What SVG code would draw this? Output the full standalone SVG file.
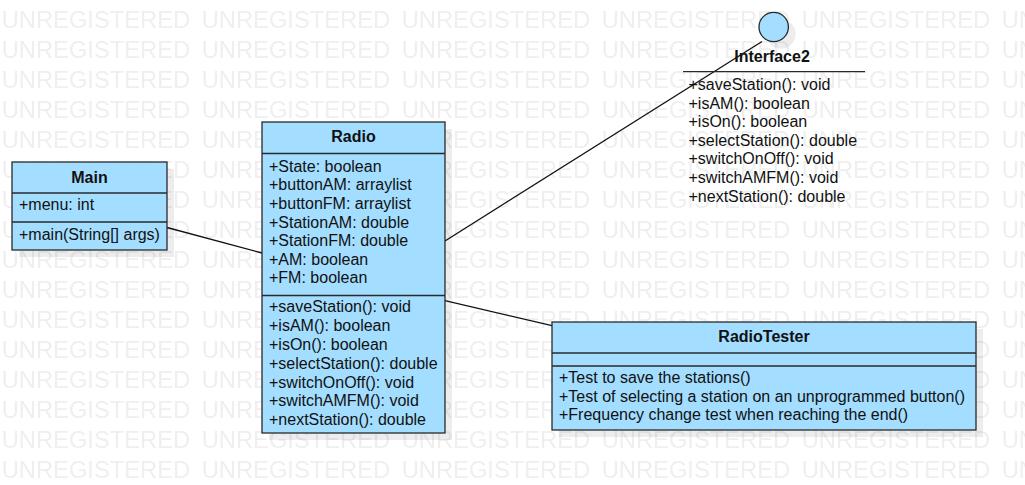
<svg xmlns="http://www.w3.org/2000/svg" width="1025" height="485" viewBox="0 0 1025 485">
  <defs>
    <pattern id="wm" x="0" y="0" width="200" height="30" patternUnits="userSpaceOnUse">
      <text x="1.7" y="28.3" font-family="Liberation Sans, Arial, sans-serif" font-size="23" fill="#efefef" textLength="188.5" lengthAdjust="spacingAndGlyphs">UNREGISTERED</text>
    </pattern>
  </defs>
  <style>
    .box { fill: #a3ddff; stroke: #2a2a2a; stroke-width: 1.3; }
    .sep { stroke: #2a2a2a; stroke-width: 1.3; }
    .shadow { fill: #000000; fill-opacity: 0.07; }
    .t { font-family: "Liberation Sans", Arial, sans-serif; font-size: 16px; fill: #111111; }
    .title { font-family: "Liberation Sans", Arial, sans-serif; font-size: 16px; font-weight: bold; fill: #111111; text-anchor: middle; }
    .conn { stroke: #111111; stroke-width: 1.3; fill: none; }
  </style>
  <rect x="0" y="0" width="1025" height="485" fill="#ffffff"/>
  <rect x="0" y="0" width="1025" height="485" fill="url(#wm)"/>

  <g id="connectors">
    <line class="conn" x1="167" y1="227.5" x2="262" y2="253"/>
    <line class="conn" x1="445" y1="241" x2="762" y2="41.5"/>
    <line class="conn" x1="445" y1="300.7" x2="552" y2="325.7"/>
  </g>

  <g id="Main">
    <rect class="shadow" x="19" y="169" width="155" height="88"/>
    <rect class="box" x="12" y="162" width="155" height="88"/>
    <line class="sep" x1="12" y1="193" x2="167" y2="193"/>
    <line class="sep" x1="12" y1="222" x2="167" y2="222"/>
    <text class="title" x="89.5" y="183.3">Main</text>
    <text class="t" x="19" y="210">+menu: int</text>
    <text class="t" x="19" y="240">+main(String[] args)</text>
  </g>

  <g id="Radio">
    <rect class="shadow" x="269" y="129" width="183" height="311"/>
    <rect class="box" x="262" y="122" width="183" height="311"/>
    <line class="sep" x1="262" y1="153.5" x2="445" y2="153.5"/>
    <line class="sep" x1="262" y1="295.5" x2="445" y2="295.5"/>
    <text class="title" x="353.5" y="141.7">Radio</text>
    <text class="t" x="269" y="171.7">+State: boolean</text>
    <text class="t" x="269" y="190.3">+buttonAM: arraylist</text>
    <text class="t" x="269" y="208.9">+buttonFM: arraylist</text>
    <text class="t" x="269" y="227.5">+StationAM: double</text>
    <text class="t" x="269" y="246.1">+StationFM: double</text>
    <text class="t" x="269" y="264.7">+AM: boolean</text>
    <text class="t" x="269" y="283.3">+FM: boolean</text>
    <text class="t" x="269" y="312.3">+saveStation(): void</text>
    <text class="t" x="269" y="331.1">+isAM(): boolean</text>
    <text class="t" x="269" y="349.9">+isOn(): boolean</text>
    <text class="t" x="269" y="368.7">+selectStation(): double</text>
    <text class="t" x="269" y="387.5">+switchOnOff(): void</text>
    <text class="t" x="269" y="406.3">+switchAMFM(): void</text>
    <text class="t" x="269" y="425.1">+nextStation(): double</text>
  </g>

  <g id="Interface2">
    <circle class="shadow" cx="781" cy="34" r="14.7"/>
    <circle class="box" cx="773.7" cy="27" r="14.7"/>
    <text class="title" x="772" y="61.7">Interface2</text>
    <line class="sep" x1="683" y1="71.7" x2="865" y2="71.7"/>
    <text class="t" x="688.5" y="90">+saveStation(): void</text>
    <text class="t" x="688.5" y="108.6">+isAM(): boolean</text>
    <text class="t" x="688.5" y="127.2">+isOn(): boolean</text>
    <text class="t" x="688.5" y="145.8">+selectStation(): double</text>
    <text class="t" x="688.5" y="164.4">+switchOnOff(): void</text>
    <text class="t" x="688.5" y="183">+switchAMFM(): void</text>
    <text class="t" x="688.5" y="201.6">+nextStation(): double</text>
  </g>

  <g id="RadioTester">
    <rect class="shadow" x="559" y="329" width="424" height="108"/>
    <rect class="box" x="552" y="322" width="424" height="108"/>
    <line class="sep" x1="552" y1="353" x2="976" y2="353"/>
    <line class="sep" x1="552" y1="366" x2="976" y2="366"/>
    <text class="title" x="764" y="342.3">RadioTester</text>
    <text class="t" x="559" y="383.3">+Test to save the stations()</text>
    <text class="t" x="559" y="401.7">+Test of selecting a station on an unprogrammed button()</text>
    <text class="t" x="559" y="420">+Frequency change test when reaching the end()</text>
  </g>
</svg>
